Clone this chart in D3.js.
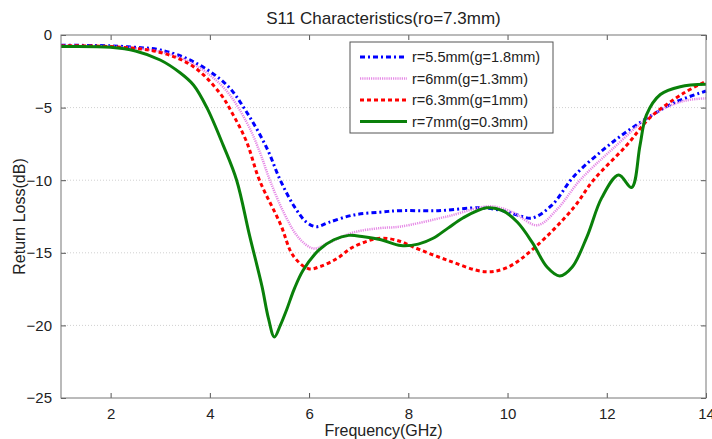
<!DOCTYPE html>
<html>
<head>
<meta charset="utf-8">
<script src="https://cdn.jsdelivr.net/npm/d3@7"></script>
<style>
  body { margin: 0; background: #fff; }
  text { font-family: "Liberation Sans", Arial, sans-serif; fill: #222; }
</style>
</head>
<body>
<div id="chart"></div>
<script>
// frequency / return loss points
var blueX = [1, 2, 2.5, 3.0, 3.67, 4.34, 4.74, 5.15, 5.42, 5.7, 5.95, 6.15, 6.4, 6.89, 7.43, 7.83, 8.6, 9.45, 9.9, 10.2, 10.5, 10.9, 11.33, 11.93, 12.4, 12.87, 13.4, 14];
var blueY = [-0.7, -0.75, -0.85, -1.03, -1.84, -3.44, -5.3, -7.8, -10, -11.8, -12.9, -13.2, -12.9, -12.4, -12.2, -12.1, -12.1, -11.9, -12.1, -12.4, -12.6, -11.7, -9.76, -7.9, -6.66, -5.6, -4.6, -3.86];

var pinkX = [1, 2, 3.0, 3.67, 4.3, 4.74, 5.0, 5.21, 5.5, 5.8, 6.09, 6.4, 6.89, 7.43, 7.83, 8.78, 9.65, 10.1, 10.6, 11.0, 11.46, 12.1, 12.87, 13.4, 13.7, 14];
var pinkY = [-0.75, -0.8, -1.15, -2.0, -3.7, -6.0, -8.0, -10, -12.3, -14.0, -14.7, -14.3, -13.6, -13.3, -13.2, -12.5, -11.8, -12.2, -13.1, -12.0, -10.0, -7.9, -5.6, -4.7, -4.45, -4.36];

var redX = [1, 2, 3.0, 3.67, 4.2, 4.47, 4.74, 5.0, 5.42, 5.68, 5.99, 6.22, 6.56, 6.89, 7.43, 7.83, 8.1, 8.78, 9.55, 10.0, 10.56, 11.33, 11.73, 12.4, 12.87, 13.55, 14];
var redY = [-0.75, -0.8, -1.2, -2.18, -4.0, -5.5, -7.35, -10, -13.0, -15.2, -16.1, -15.95, -15.4, -14.6, -14.0, -14.2, -14.6, -15.5, -16.3, -16.0, -14.6, -11.9, -10.0, -7.6, -5.7, -4.0, -3.2];

var greenX = [1, 2, 2.5, 3.0, 3.4, 3.67, 3.94, 4.27, 4.54, 4.8, 5.05, 5.18, 5.3, 5.42, 5.55, 5.7, 5.88, 6.2, 6.5, 6.8, 7.1, 7.45, 7.85, 8.2, 8.5, 8.8, 9.1, 9.58, 9.9, 10.2, 10.5, 10.8, 11.05, 11.3, 11.6, 11.9, 12.24, 12.5, 12.67, 12.8, 13.08, 13.48, 14];
var greenY = [-0.8, -0.85, -1.1, -1.72, -2.6, -3.44, -5.0, -7.6, -10, -13.8, -17.3, -19.5, -20.8, -20.0, -18.9, -17.5, -16.2, -14.8, -14.1, -13.8, -13.9, -14.1, -14.5, -14.4, -14.0, -13.3, -12.6, -11.9, -12.1, -12.9, -14.3, -16.0, -16.6, -16.0, -13.9, -11.2, -9.64, -10.5, -7.6, -5.5, -4.1, -3.56, -3.4];

var seriesNames = ["r=5.5mm(g=1.8mm)", "r=6mm(g=1.3mm)", "r=6.3mm(g=1mm)", "r=7mm(g=0.3mm)"];
var xTicks = [2, 4, 6, 8, 10, 12, 14];
var yTicks = [0, -5, -10, -15, -20, -25];

var styles = [
  {color: "#0000ff", width: 3, dash: "5,3,2,3"},
  {color: "#e68ae6", width: 2.5, dash: "1.2,1"},
  {color: "#ff0000", width: 3, dash: "4,3"},
  {color: "#0a800a", width: 3, dash: null}
];

var series = [
  {x: blueX, y: blueY},
  {x: pinkX, y: pinkY},
  {x: redX, y: redY},
  {x: greenX, y: greenY}
];

var W = 712, H = 439;
var margin = {top: 35, right: 6, bottom: 41, left: 61};
var width = W - margin.left - margin.right;
var height = H - margin.top - margin.bottom;

var svg = d3.select("#chart").append("svg")
    .attr("width", W)
    .attr("height", H);

var g = svg.append("g")
    .attr("transform", "translate(" + margin.left + "," + margin.top + ")");

var x = d3.scaleLinear().domain([1, 14]).range([0, width]);
var y = d3.scaleLinear().domain([-25, 0]).range([height, 0]);

// horizontal dotted grid
g.selectAll(".grid")
  .data([-5, -10, -15, -20])
  .enter().append("line")
    .attr("x1", 0).attr("x2", width)
    .attr("y1", function(d) { return y(d); })
    .attr("y2", function(d) { return y(d); })
    .attr("stroke", "#d0d0d0")
    .attr("stroke-width", 1)
    .attr("stroke-dasharray", "1,2");

// curves
var line = d3.line()
    .x(function(d) { return x(d[0]); })
    .y(function(d) { return y(d[1]); })
    .curve(d3.curveCatmullRom.alpha(0.5));

series.forEach(function(s, i) {
  var pts = s.x.map(function(v, j) { return [v, s.y[j]]; });
  g.append("path")
    .datum(pts)
    .attr("fill", "none")
    .attr("stroke", styles[i].color)
    .attr("stroke-width", styles[i].width)
    .attr("stroke-dasharray", styles[i].dash)
    .attr("d", line);
});

// axes: ticks inward on all four sides
function styleAxis(sel) {
  sel.select(".domain").remove();
  sel.selectAll(".tick line").attr("stroke", "#555");
  sel.selectAll(".tick text").attr("font-size", 15).style("font-family", "Liberation Sans, Arial, sans-serif");
}

g.append("g")
  .attr("transform", "translate(0," + height + ")")
  .call(d3.axisBottom(x).tickValues(xTicks).tickSizeInner(-5).tickPadding(10))
  .call(styleAxis);

g.append("g")
  .call(d3.axisTop(x).tickValues(xTicks).tickSizeInner(-5).tickFormat(""))
  .call(styleAxis);

g.append("g")
  .call(d3.axisLeft(y).tickValues(yTicks).tickSizeInner(-5).tickPadding(9))
  .call(styleAxis);

g.append("g")
  .attr("transform", "translate(" + width + ",0)")
  .call(d3.axisRight(y).tickValues(yTicks).tickSizeInner(-5).tickFormat(""))
  .call(styleAxis);

g.append("rect")
  .attr("width", width).attr("height", height)
  .attr("fill", "none").attr("stroke", "#777").attr("stroke-width", 1);

// legend
var lg = g.append("g").attr("transform", "translate(" + (350 - margin.left) + "," + (42 - margin.top) + ")");
lg.append("rect")
  .attr("width", 203).attr("height", 91)
  .attr("fill", "#fff").attr("stroke", "#555").attr("stroke-width", 1);

seriesNames.forEach(function(name, i) {
  var yy = 15 + i * 21.5;
  lg.append("line")
    .attr("x1", 10).attr("x2", 57)
    .attr("y1", yy).attr("y2", yy)
    .attr("stroke", styles[i].color)
    .attr("stroke-width", styles[i].width)
    .attr("stroke-dasharray", styles[i].dash);
  lg.append("text")
    .attr("x", 62).attr("y", yy + 5)
    .attr("font-size", 14.5)
    .text(name);
});

// titles
svg.append("text")
  .attr("x", margin.left + width / 2).attr("y", 24)
  .attr("text-anchor", "middle")
  .attr("font-size", 17)
  .text("S11 Characteristics(ro=7.3mm)");

svg.append("text")
  .attr("x", margin.left + width / 2).attr("y", 436)
  .attr("text-anchor", "middle")
  .attr("font-size", 16)
  .text("Frequency(GHz)");

svg.append("text")
  .attr("transform", "translate(25," + (margin.top + height / 2) + ") rotate(-90)")
  .attr("text-anchor", "middle")
  .attr("font-size", 16)
  .text("Return Loss(dB)");
</script>
</body>
</html>
